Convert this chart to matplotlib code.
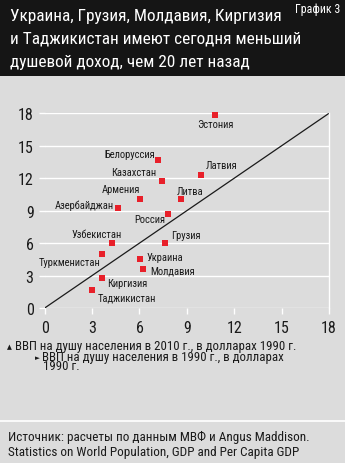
import matplotlib
matplotlib.use("Agg")
import matplotlib.pyplot as plt
from matplotlib.patches import Rectangle
from matplotlib.lines import Line2D

plt.rcParams['font.family'] = ['Roboto Condensed', 'PT Sans Narrow', 'DejaVu Sans']
plt.rcParams['font.stretch'] = 'condensed'

# GDP per capita, thousand 1990 dollars: 1990 (x) and 2010 (y)
countries = ["Эстония", "Белоруссия", "Казахстан", "Латвия", "Армения", "Литва",
             "Азербайджан", "Россия", "Узбекистан", "Грузия", "Туркменистан",
             "Украина", "Молдавия", "Киргизия", "Таджикистан"]
gdp_1990 = [10.8, 7.2, 7.45, 9.9, 6.05, 8.65, 4.65, 7.8, 4.25, 7.6, 3.65, 6.05, 6.2, 3.6, 3.0]
gdp_2010 = [17.85, 13.7, 11.75, 12.25, 10.05, 10.05, 9.2, 8.7, 6.05, 6.05, 4.95, 4.5, 3.6, 2.8, 1.65]
# label offsets (pixels) and horizontal alignment
label_pos = {
    "Эстония": (0, -9, "center"),
    "Белоруссия": (-4, 6, "right"),
    "Казахстан": (-6, 9, "right"),
    "Латвия": (5, 10, "left"),
    "Армения": (0, 10, "right"),
    "Литва": (-5, 8, "left"),
    "Азербайджан": (-4, 4, "right"),
    "Россия": (-3, -5, "right"),
    "Узбекистан": (10, 9, "right"),
    "Грузия": (6, 8, "left"),
    "Туркменистан": (-2, -8, "right"),
    "Украина": (6, 2, "left"),
    "Молдавия": (8, -1, "left"),
    "Киргизия": (6, -5, "left"),
    "Таджикистан": (6, -7, "left"),
}
ticks = [0, 3, 6, 9, 12, 15, 18]

BG = "#dcdcdc"
RED = "#e8202a"
INK = "#1a1a1a"

fig = plt.figure(figsize=(3.45, 4.64), dpi=100)
fig.patch.set_facecolor(BG)

# header band
fig.patches.append(Rectangle((0, 0.834), 1, 0.166, transform=fig.transFigure,
                             facecolor="#151515", edgecolor="none", zorder=0))
title_lines = ["Украина, Грузия, Молдавия, Киргизия",
               "и Таджикистан имеют сегодня меньший",
               "душевой доход, чем 20 лет назад"]
for i, line in enumerate(title_lines):
    fig.text(10 / 345, 1 - (16 + 23.5 * i) / 464, line, color="white",
             fontsize=12.4, ha="left", va="center")
fig.text(340 / 345, 1 - 9 / 464, "График 3", color="white", fontsize=8.6,
         ha="right", va="center")

ax = fig.add_axes([44.7 / 345, 1 - 309 / 464, 284.3 / 345, 194.7 / 464])
ax.set_facecolor(BG)
ax.set_xlim(0, 18)
ax.set_ylim(0, 18)
for side in ["top", "left", "bottom"]:
    ax.spines[side].set_visible(False)
ax.spines["right"].set_color("white")
ax.spines["right"].set_linewidth(1.0)
ax.set_xticks(ticks)
ax.set_yticks(ticks)
ax.tick_params(axis="both", colors="white", length=4, width=1.0, labelcolor=INK,
               labelsize=11.5, direction="out")
ax.tick_params(axis="x", pad=5)
ax.tick_params(axis="y", pad=4)
ax.yaxis.grid(True, color="white", linewidth=1.0)
ax.set_axisbelow(True)

ax.plot([0, 18], [0, 18], color=INK, linewidth=0.9, zorder=2)
ax.plot(gdp_1990, gdp_2010, linestyle="none", marker="s", markersize=4.6,
        color=RED, markeredgewidth=0, zorder=3, clip_on=False)
for name, x, y in zip(countries, gdp_1990, gdp_2010):
    dx, dy, ha = label_pos[name]
    ax.annotate(name, (x, y), xytext=(dx, dy), textcoords="offset pixels",
                ha=ha, va="center", fontsize=7.6, color=INK, zorder=4)

# axis legend
fig.text(7 / 345, 1 - 347.5 / 464, "▲", fontsize=5, color=INK, ha="left", va="center",
         family=["DejaVu Sans"])
fig.text(15 / 345, 1 - 347 / 464, "ВВП на душу населения в 2010 г., в долларах 1990 г.",
         fontsize=9.3, color=INK, ha="left", va="center")
fig.text(35 / 345, 1 - 358.5 / 464, "►", fontsize=5, color=INK, ha="left", va="center",
         family=["DejaVu Sans"])
fig.text(42 / 345, 1 - 358 / 464, "ВВП на душу населения в 1990 г., в долларах",
         fontsize=9.3, color=INK, ha="left", va="center")
fig.text(43 / 345, 1 - 367 / 464, "1990 г.",
         fontsize=9.3, color=INK, ha="left", va="center")

# source strip
fig.lines.append(Line2D([0, 1], [1 - 422 / 464] * 2, transform=fig.transFigure,
                        color="white", linewidth=1.2))
fig.text(8 / 345, 1 - 437 / 464, "Источник: расчеты по данным МВФ и Angus Maddison.",
         fontsize=9.5, color=INK, ha="left", va="center")
fig.text(8 / 345, 1 - 453 / 464, "Statistics on World Population, GDP and Per Capita GDP",
         fontsize=9.5, color=INK, ha="left", va="center")

fig.savefig("out.png", dpi=100, facecolor=BG)
